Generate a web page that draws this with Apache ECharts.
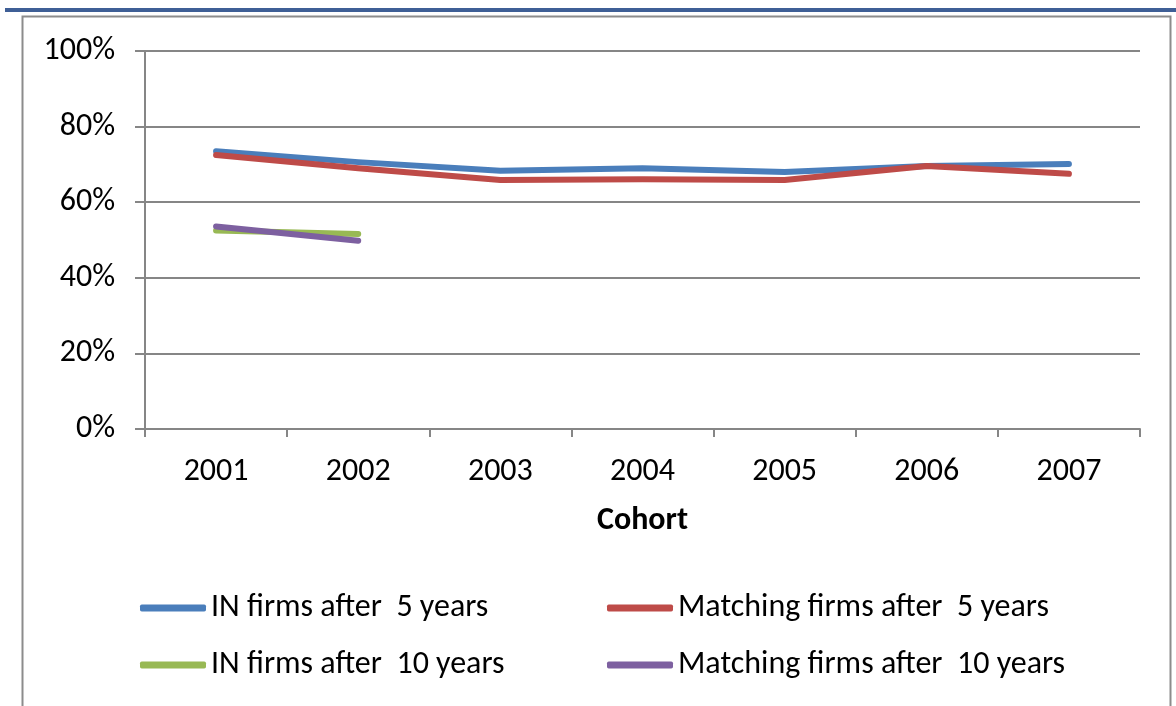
<!DOCTYPE html>
<html>
<head>
<meta charset="utf-8">
<script src="https://cdn.jsdelivr.net/npm/echarts@6/dist/echarts.min.js"></script>
<style>
  html, body { margin: 0; padding: 0; background: #fff; }
  #chart { width: 1176px; height: 706px; }
</style>
</head>
<body>
<div id="chart"></div>
<script>
// cohorts on the x axis
const cohorts = ['2001', '2002', '2003', '2004', '2005', '2006', '2007'];

// survival share (%) per series
const inFirms5 = [73.5, 70.6, 68.3, 69.0, 68.0, 69.6, 70.1];
const matching5 = [72.5, 69.0, 65.9, 66.1, 65.9, 69.6, 67.5];
const inFirms10 = [52.5, 51.6];
const matching10 = [53.6, 49.8];

const seriesNames = [
  'IN firms after  5 years',
  'Matching firms after  5 years',
  'IN firms after  10 years',
  'Matching firms after  10 years'
];
const colors = ['#4a7ebb', '#be4b48', '#98b954', '#7d60a0'];

const font = 'Calibri, Carlito, "Open Sans", sans-serif';
const chart = echarts.init(document.getElementById('chart'));

// one legend per item so the two columns line up
const legendPos = [
  { left: 140, top: 592 },
  { left: 607, top: 592 },
  { left: 140, top: 649 },
  { left: 607, top: 649 }
];
const legends = seriesNames.map((name, i) => ({
  data: [name],
  left: legendPos[i].left,
  top: legendPos[i].top,
  padding: 0,
  icon: 'roundRect',
  itemWidth: 66,
  itemHeight: 7,
  itemGap: 0,
  selectedMode: false,
  textStyle: { fontFamily: font, fontSize: 32, color: '#000' }
}));

const lineSeries = (name, data, color) => ({
  name,
  type: 'line',
  data,
  symbol: 'none',
  lineStyle: { width: 6, color, cap: 'round', join: 'round' },
  itemStyle: { color },
  animation: false
});

chart.setOption({
  animation: false,
  graphic: [
    { type: 'rect', shape: { x: 5, y: 8, width: 1171, height: 4 }, style: { fill: '#3f5f96' } },
    { type: 'rect', shape: { x: 22.5, y: 16.5, width: 1148, height: 700 },
      style: { fill: 'none', stroke: '#8c8c8c', lineWidth: 2 } }
  ],
  legend: legends,
  grid: { left: 145, right: 36, top: 51, bottom: 277 },
  xAxis: {
    type: 'category',
    data: cohorts,
    boundaryGap: true,
    name: 'Cohort',
    nameLocation: 'middle',
    nameGap: 76,
    nameTextStyle: { fontFamily: font, fontSize: 32, fontWeight: 'bold', color: '#000' },
    axisLine: { lineStyle: { color: '#868686', width: 2 } },
    axisTick: { show: true, length: 8, lineStyle: { color: '#868686', width: 2 } },
    axisLabel: { fontFamily: font, fontSize: 32, color: '#000', margin: 27 }
  },
  yAxis: {
    type: 'value',
    min: 0,
    max: 100,
    interval: 20,
    axisLine: { show: true, lineStyle: { color: '#868686', width: 2 } },
    axisTick: { show: true, length: 10, lineStyle: { color: '#868686', width: 2 } },
    axisLabel: { fontFamily: font, fontSize: 32, color: '#000', margin: 30, formatter: '{value}%' },
    splitLine: { lineStyle: { color: '#868686', width: 2 } }
  },
  series: [
    lineSeries(seriesNames[0], inFirms5, colors[0]),
    lineSeries(seriesNames[1], matching5, colors[1]),
    lineSeries(seriesNames[2], inFirms10, colors[2]),
    lineSeries(seriesNames[3], matching10, colors[3])
  ]
});
</script>
</body>
</html>
